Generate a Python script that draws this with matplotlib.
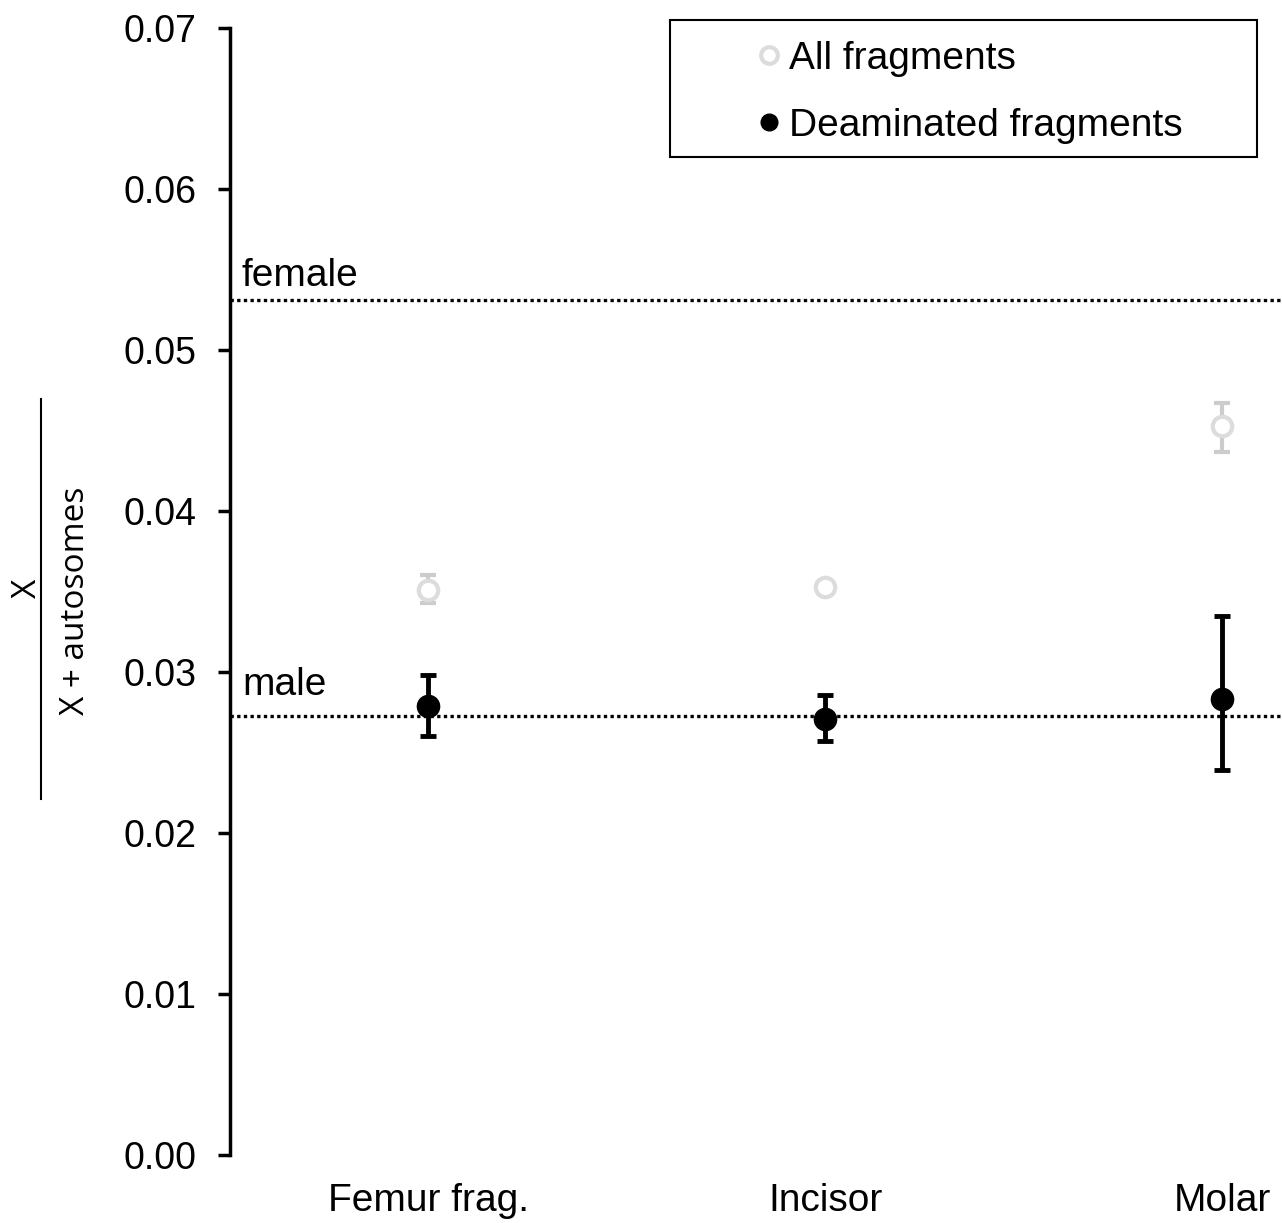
import numpy as np
import matplotlib.pyplot as plt
from matplotlib.lines import Line2D
from matplotlib.patches import Rectangle

plt.rcParams['font.family'] = ['Liberation Sans', 'DejaVu Sans']

# data
samples = ["Femur frag.", "Incisor", "Molar"]
all_frag = [0.0351, 0.0353, 0.0453]
all_lo = [0.0343, 0.0350, 0.0437]
all_hi = [0.0360, 0.0356, 0.0467]
deam = [0.0279, 0.0271, 0.0283]
deam_lo = [0.0260, 0.0257, 0.0239]
deam_hi = [0.0298, 0.0286, 0.0335]
female_level = 0.0531
male_level = 0.0273

x = np.arange(1, len(samples) + 1)

fig = plt.figure(figsize=(12.82, 12.23), dpi=100)
ax = fig.add_axes([0.1794, 0.0556, 0.8206, 0.9214])

ax.axhline(female_level, color='black', ls=(0, (1, 1)), lw=2.4)
ax.axhline(male_level, color='black', ls=(0, (1, 1)), lw=2.4)
ax.text(0.53, female_level + 0.0004, "female", fontsize=28, va='bottom', ha='left')
ax.text(0.53, male_level + 0.0008, "male", fontsize=28, va='bottom', ha='left')

all_err = [np.array(all_frag) - np.array(all_lo), np.array(all_hi) - np.array(all_frag)]
deam_err = [np.array(deam) - np.array(deam_lo), np.array(deam_hi) - np.array(deam)]

ax.errorbar(x, all_frag, yerr=all_err, fmt='o', mfc='white', mec='#dcdcdc',
            ecolor='#cccccc', ms=14, mew=3, elinewidth=3, capsize=6, capthick=3)
ax.errorbar(x, deam, yerr=deam_err, fmt='o', color='black', ms=16,
            elinewidth=3.5, capsize=6, capthick=3.5)

ax.set_xlim(0.5, 3.15)
ax.set_ylim(0, 0.07)
ax.set_yticks(np.arange(0, 0.071, 0.01))
ax.set_yticklabels([f"{v:.2f}" for v in np.arange(0, 0.071, 0.01)])
ax.set_xticks(x)
ax.set_xticklabels(samples)
ax.tick_params(axis='y', labelsize=27, length=9, width=2.5, pad=15)
ax.tick_params(axis='x', labelsize=28, length=0, pad=20)
for s in ['top', 'right', 'bottom']:
    ax.spines[s].set_visible(False)
ax.spines['left'].set_linewidth(2.5)

# legend box (wide frame like the original)
ax.add_patch(Rectangle((0.418, 0.8855), 0.558, 0.1216, transform=ax.transAxes,
                       fill=False, edgecolor='black', lw=1.5, clip_on=False))
handles = [
    Line2D([], [], ls='none', marker='o', mfc='white', mec='#dcdcdc', mew=3, ms=12),
    Line2D([], [], ls='none', marker='o', color='black', ms=12),
]
ax.legend(handles, ["All fragments", "Deaminated fragments"],
          loc='upper left', bbox_to_anchor=(0.494, 0.9886), fontsize=28,
          frameon=False, handlelength=1.0, handletextpad=0.0, borderpad=0,
          labelspacing=0.8, borderaxespad=0)

# fraction-style y label
fig.text(0.021, 0.519, "X", rotation=90, fontsize=24, family='Open Sans',
         ha='center', va='center')
fig.text(0.059, 0.509, "X + autosomes", rotation=90, fontsize=24,
         family='Open Sans', ha='center', va='center')
fig.add_artist(Line2D([0.032, 0.032], [0.347, 0.674], color='black', lw=1.5,
                      transform=fig.transFigure))

fig.savefig("out.png", dpi=100)
